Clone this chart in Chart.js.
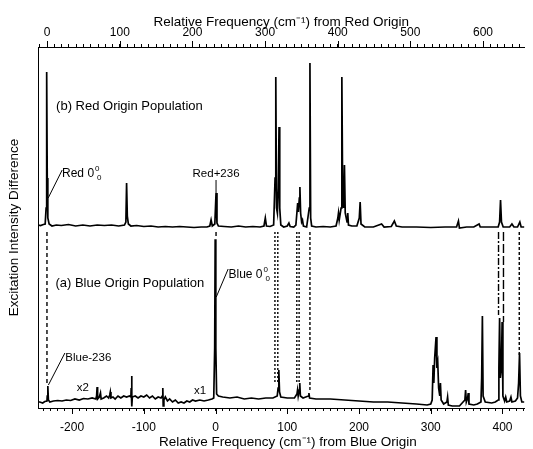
<!DOCTYPE html>
<html>
<head>
<meta charset="utf-8">
<script src="https://cdn.jsdelivr.net/npm/chart.js@4/dist/chart.umd.min.js"></script>
<style>
  html, body { margin: 0; padding: 0; background: #fff; }
  #wrap { width: 533px; height: 449px; }
</style>
</head>
<body>
<div id="wrap"><canvas id="chart-spectrum"></canvas></div>
<script>
// Achsen (x unten: relativ zum Blue Origin, x oben: relativ zum Red Origin)
const BLUE_MIN = -247.5, BLUE_MAX = 430.6;
const RED_MIN = -12.6, RED_MAX = 657;
const blueTickLabels = [-200, -100, 0, 100, 200, 300, 400];
const redTickLabels = [0, 100, 200, 300, 400, 500, 600];

// (b) Red Origin Population - Frequenz (cm-1, Blue-Skala) / Intensitaet
const redTraceX = [-247.5, -244, -240, -237.5, -236.2, -235.4, -234.6, -233.8, -232, -228, -222, -215, -205, -195, -185, -175,
  -165, -155, -145, -135, -127, -125, -124, -123, -121.5, -118, -110, -100, -90, -80, -70, -60, -50, -40, -30, -20, -12, -8,
  -6.2, -4.5, -1, 0.7, 2, 4, 12, 22, 32, 42, 52, 62, 67.5, 69.4, 71, 76, 81, 83, 84, 85, 86.2, 87.5, 88.5, 89.5, 91, 95, 100,
  102.3, 104, 109, 112, 113.5, 114.5, 115.5, 116.8, 117.6, 118.6, 120, 121.2, 122.5, 127, 130.6, 131.6, 132.6, 134, 140, 150,
  160, 168, 170.5, 171.4, 172.4, 175, 176.1, 177.2, 178.6, 179.7, 180.8, 183.3, 184.3, 185.3, 190, 197, 200.4, 201.6, 202.8,
  208, 220, 231.5, 235, 245, 249.3, 252, 260, 280, 300, 320, 336, 338.6, 340, 350, 360, 367.4, 369, 380, 394, 396, 397.3,
  398.6, 401, 410, 413.2, 416, 421, 424.2, 426, 430.6];
const redTraceY = [183, 182.5, 183.5, 184, 200, 336, 230, 190, 184, 182, 183, 182.5, 183.5, 182, 183, 182,
  183, 182.5, 183, 182, 183, 186, 225, 192, 184, 182, 182.5, 181.5, 182, 181, 181.5, 181, 181.5, 181, 180.5, 181, 181, 182,
  188, 182, 184, 215, 185, 182, 181.5, 181, 182, 181, 181.5, 181, 182, 190, 182, 181.5, 183, 230, 331, 200, 195, 220, 281, 200, 183, 181, 182,
  185, 181.5, 181, 183, 196, 205, 196, 210, 221, 195, 186, 188, 182, 181, 200, 345, 190, 182, 181, 181.5,
  181, 182, 190, 195, 188, 200, 331, 215, 200, 243, 195, 186, 195, 183, 182, 182, 190, 206, 184,
  181, 181, 184, 181, 181.5, 187, 182, 181, 181, 180.5, 181, 181, 187, 180, 181, 181, 184, 181, 181, 181, 186, 208,
  186, 181, 181, 184, 181, 181, 186, 181, 181];

// (a) Blue Origin Population
const blueTraceX = [-247.5, -245, -241, -238, -235, -234.6, -233.8, -233, -231, -226, -220, -214, -208, -202, -196, -190,
  -184, -178, -172, -167, -165.8, -165.1, -164.4, -162, -160.4, -159.5, -156, -152, -149, -147.5, -146.7, -145.8, -143, -140,
  -136, -132, -128, -124, -120, -118, -117.6, -117, -116.5, -116, -112, -108, -104, -100, -96, -92, -88, -84, -80, -76, -74.3,
  -73.5, -73, -72, -70, -67, -64, -60, -56, -52, -48, -44, -40, -36, -32, -28, -22, -16, -10, -5, -2.5, -1.2, -0.5, 0.4, 1.5,
  4, 10, 20, 30, 40, 50, 60, 70, 80, 86, 87.2, 88.2, 89.2, 91, 100, 110, 113.5, 114.3, 115.2, 116.6, 117.4, 118.3, 122,
  129.3, 130.2, 131.1, 140, 160, 180, 200, 220, 240, 260, 280, 295, 300, 302, 303.3, 304.3, 305.5, 307.4, 308.6, 309.8, 311,
  312.6, 313.5, 314.5, 318, 322.5, 323.5, 324.5, 330, 340, 347.6, 348.6, 349.6, 351.4, 352.3, 353.3, 360, 365, 370, 371, 372,
  373, 376, 385, 390, 394, 395, 396, 397, 398.5, 399.5, 400.6, 403, 404.5, 406, 410, 411.8, 413.2, 418, 421, 422.5, 423.8,
  425, 427, 430.6];
const blueTraceY = [6, 6, 5, 6.5, 7, 12, 22, 8, 6, 7, 7.5, 7, 8, 7.5, 9, 8,
  9.5, 9, 10, 9, 12, 21, 9, 11, 15, 9, 10, 12, 10, 13, 16, 10, 11, 9,
  12, 10, 12, 11, 12, 11, 20, 32, 1.5, 11, 12, 10, 12, 11, 13, 10, 12, 9, 11, 10, 12,
  20, 2, 8, 11, 7, 9, 6, 8, 5, 6, 5, 7, 6, 8, 7, 8, 7, 8, 9, 10, 60, 168.7, 60, 14,
  12, 11, 10, 11, 9, 10, 9, 10, 10, 12, 20, 38, 16, 11, 10, 10, 14, 18, 12, 18, 25, 12, 10,
  12, 15, 10, 9, 9, 8, 7, 6, 6, 5, 4, 3, 4, 8, 43, 25, 50, 71, 40, 45, 20,
  12, 25, 8, 4, 6, 11, 3, 2, 2, 8, 18, 6, 10, 15, 4, 3, 4, 6, 30, 92,
  12, 6, 5, 6, 8, 40, 90, 30, 40, 86, 12, 7, 11, 6, 7, 11, 6, 7, 10, 25, 55,
  12, 6, 6];

// Verbindungslinien zwischen (b) und (a)
const linkX = [-235, 0.7, 82.8, 86.8, 113.3, 116.5, 131.6, 394.5, 401.4, 423.4];
const linkTop = [176, 176, 176, 176, 176, 176, 176, 176, 176, 176];
const linkBottom = [22, 170, 26, 26, 26, 26, 18, 93, 86, 53];
const LINK_DASH = [[4, 3], [4, 3], [2, 2], [2, 2], [2, 2], [2, 2], [3, 2], [7, 2, 2, 2], [9, 3], [3, 2]];

// Beschriftungen [text, x, y]
const labelTexts = ['(b) Red Origin Population', '(a) Blue Origin Population', 'Red+236', 'Blue-236', 'x2', 'x1'];
const labelX = [-222.3, -223.2, 0.7, -209.5, -193.4, -30];
const labelY = [302, 125, 234, 50, 20, 17.3];
const originTexts = ['Red 0', 'Blue 0'];
const originX = [-214, 18.1];
const originY = [234, 133];

// Zeiger [x1, y1, x2, y2]
const leaderLines = [
  [-233.3, 210, -213.8, 238],
  [0.7, 228, 0.7, 215],
  [1, 111, 17.6, 139],
  [-233, 23, -210, 55]
];

const FONT = '"Liberation Sans", Arial, sans-serif';

const annotations = {
  id: 'annotations',
  afterDraw(chart) {
    const { ctx, scales } = chart;
    const sx = scales.x, sy = scales.y, sr = scales.red;

    // Hauptticks verlaengern
    ctx.save();
    ctx.strokeStyle = '#000';
    ctx.lineWidth = 1;
    blueTickLabels.forEach(v => {
      const px = Math.round(sx.getPixelForValue(v)) + 0.5;
      ctx.beginPath();
      ctx.moveTo(px, sx.top);
      ctx.lineTo(px, sx.top + 6);
      ctx.stroke();
    });
    redTickLabels.forEach(v => {
      const px = Math.round(sr.getPixelForValue(v)) + 0.5;
      ctx.beginPath();
      ctx.moveTo(px, sr.bottom);
      ctx.lineTo(px, sr.bottom - 6);
      ctx.stroke();
    });

    // Zeiger
    leaderLines.forEach(l => {
      ctx.beginPath();
      ctx.moveTo(sx.getPixelForValue(l[0]), sy.getPixelForValue(l[1]));
      ctx.lineTo(sx.getPixelForValue(l[2]), sy.getPixelForValue(l[3]));
      ctx.stroke();
    });

    ctx.fillStyle = '#000';
    ctx.textBaseline = 'middle';
    labelTexts.forEach((t, i) => {
      const big = i < 2;
      ctx.font = (big ? '13px ' : '11.5px ') + FONT;
      ctx.textAlign = t === 'Red+236' ? 'center' : 'left';
      ctx.fillText(t, sx.getPixelForValue(labelX[i]), sy.getPixelForValue(labelY[i]));
    });

    // "0^0_0" Notation
    originTexts.forEach((t, i) => {
      const px = sx.getPixelForValue(originX[i]);
      const py = sy.getPixelForValue(originY[i]);
      ctx.textAlign = 'left';
      ctx.font = '12px ' + FONT;
      ctx.fillText(t, px, py);
      const w = ctx.measureText(t).width;
      ctx.font = '8px ' + FONT;
      ctx.fillText('0', px + w + 1, py - 5);
      ctx.fillText('0', px + w + 3, py + 4);
    });
    ctx.restore();
  }
};

const linkDatasets = linkX.map((x, i) => ({
  data: [{ x: x, y: linkTop[i] }, { x: x, y: linkBottom[i] }],
  borderColor: '#000',
  borderWidth: 1.4,
  borderDash: LINK_DASH[i],
  pointRadius: 0,
  showLine: true,
  xAxisID: 'x',
  yAxisID: 'y'
}));

const axisTitleFont = { family: FONT, size: 13.5 };
const tickFont = { family: FONT, size: 12 };

new Chart(document.getElementById('chart-spectrum'), {
  type: 'scatter',
  data: {
    datasets: [
      {
        data: redTraceX.map((x, i) => ({ x: x, y: redTraceY[i] })),
        borderColor: '#000',
        borderWidth: 1.7,
        pointRadius: 0,
        showLine: true,
        xAxisID: 'x',
        yAxisID: 'y'
      },
      {
        data: blueTraceX.map((x, i) => ({ x: x, y: blueTraceY[i] })),
        borderColor: '#000',
        borderWidth: 1.7,
        pointRadius: 0,
        showLine: true,
        xAxisID: 'x',
        yAxisID: 'y'
      },
      ...linkDatasets
    ]
  },
  options: {
    responsive: true,
    maintainAspectRatio: false,
    animation: false,
    layout: { padding: { right: 1 } },
    plugins: {
      legend: { display: false },
      tooltip: { enabled: false }
    },
    scales: {
      x: {
        type: 'linear',
        position: 'bottom',
        min: BLUE_MIN,
        max: BLUE_MAX,
        afterFit: s => { s.height = 41; },
        border: { display: true, color: '#000', width: 1 },
        grid: { display: true, drawOnChartArea: false, drawTicks: true, tickLength: 3, color: '#000', tickColor: '#000' },
        ticks: {
          stepSize: 10,
          maxTicksLimit: 1000,
          autoSkip: false,
          includeBounds: false,
          maxRotation: 0,
          padding: 9,
          color: '#000',
          font: tickFont,
          callback: v => blueTickLabels.includes(v) ? String(v) : ''
        },
        title: {
          display: true,
          text: '\u2002\u2002Relative Frequency (cm⁻¹) from Blue Origin',
          color: '#000',
          font: axisTitleFont,
          padding: { top: 0, bottom: -1 }
        }
      },
      red: {
        type: 'linear',
        position: 'top',
        min: RED_MIN,
        max: RED_MAX,
        afterFit: s => { s.height = 47; },
        border: { display: true, color: '#000', width: 1 },
        grid: { display: true, drawOnChartArea: false, drawTicks: true, tickLength: 3, color: '#000', tickColor: '#000' },
        ticks: {
          stepSize: 10,
          maxTicksLimit: 1000,
          autoSkip: false,
          includeBounds: false,
          maxRotation: 0,
          padding: 4,
          color: '#000',
          font: tickFont,
          callback: v => redTickLabels.includes(v) ? String(v) : ''
        },
        title: {
          display: true,
          text: 'Relative Frequency (cm⁻¹) from Red Origin',
          color: '#000',
          font: axisTitleFont,
          padding: { top: 14, bottom: 0 }
        }
      },
      y: {
        type: 'linear',
        min: 0,
        max: 361,
        afterFit: s => { s.width = 38; },
        border: { display: true, color: '#000', width: 1 },
        grid: { display: false },
        ticks: { display: false },
        title: {
          display: true,
          text: 'Excitation Intensity Difference',
          color: '#000',
          font: { family: FONT, size: 13.5 },
          padding: { top: 6, bottom: 0 }
        }
      }
    }
  },
  plugins: [annotations]
});
</script>
</body>
</html>
